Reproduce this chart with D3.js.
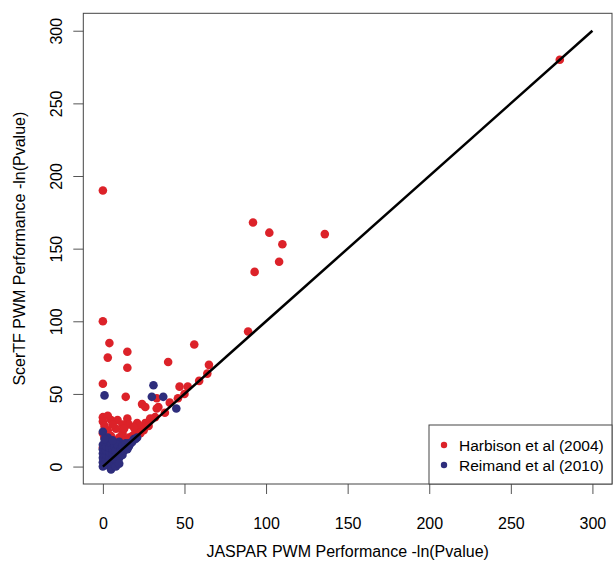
<!DOCTYPE html>
<html lang="en">
<head>
    <meta charset="UTF-8"/>
    <title>ScerTF vs JASPAR PWM Performance</title>
    <script src="https://d3js.org/d3.v7.min.js"></script>
    <style>
        body { margin: 0; background: #fff; }
        svg text { font-family: "Liberation Sans", Arial, Helvetica, sans-serif; fill: #000; }
    </style>
</head>
<body>
    <div id="chart"></div>

    <script>
        // Values: [JASPAR, ScerTF]
        const harbison = [
            [0, 190], [0, 100], [92, 168], [102, 161], [110, 153], [108, 141], [93, 134],
            [136, 160], [89, 93], [280, 280],
            [4, 85], [15, 79], [3, 75], [15, 68], [56, 84], [40, 72], [65, 70], [64, 64],
            [59, 59], [52, 55], [47, 55], [0, 57], [14, 48], [33, 47], [41, 44], [46, 47],
            [50, 50], [24, 43], [34, 41], [38, 37], [32, 34],
            [26, 41], [33, 40], [0, 34], [0, 31], [5, 32], [9, 32], [15, 33], [16, 29],
            [21, 30], [29, 33], [3, 25], [8, 26], [12, 29], [0, 23], [20, 24], [25, 25],
            [5, 21], [10, 20], [16, 20], [2, 17], [8, 18], [18, 21], [22, 28], [12, 23],
            [1, 28], [6, 29], [3, 35], [13, 26], [26, 30], [19, 27], [1, 20], [28, 28],
            [4, 15], [10, 16], [0, 13], [14, 18], [23, 23]
        ];
        const reimand = [
            [1, 49], [31, 56], [30, 48], [37, 48], [45, 40], [0, 24], [10, 17], [16, 16], [19, 19],
            [0, 0], [0, 3], [0, 6], [0, 9], [0, 12], [0, 15], [1, 2], [2, 5], [2, 8], [2, 11],
            [2, 14], [3, 1], [3, 17], [4, 4], [4, 7], [4, 10], [4, 13], [5, -2], [5, 2], [5, 16],
            [6, 5], [6, 9], [6, 12], [7, 14], [7, 1], [8, 4], [8, 7], [8, 11], [9, 15], [10, 6],
            [10, 9], [11, 12], [12, 14], [12, 8], [13, 11], [14, 16], [14, 13], [15, 12],
            [16, 14], [17, 16], [18, 17], [20, 19], [21, 20], [3, 20], [6, 18], [1, 19], [8, 0],
            [10, 2]
        ];
        const tickValues = [0, 50, 100, 150, 200, 250, 300];
        const seriesNames = ["Harbison et al (2004)", "Reimand et al (2010)"];
        const seriesColors = ["#dc2229", "#2e2d7c"];

        const w = 613;
        const h = 562;
        const plot = { left: 83.3, right: 612, top: 13.3, bottom: 484 };

        const svg = d3.select("#chart")
            .append("svg")
            .attr("width", w)
            .attr("height", h);

        // R style: 0..300 with 4% padding each side
        const x = d3.scaleLinear().domain([-12, 312]).range([plot.left, plot.right]);
        const y = d3.scaleLinear().domain([-12, 312]).range([plot.bottom, plot.top]);

        // x axis
        const xAxis = svg.append("g")
            .attr("transform", `translate(0, ${plot.bottom})`)
            .call(d3.axisBottom(x).tickValues(tickValues).tickSize(10).tickPadding(24));
        xAxis.select(".domain").remove();
        xAxis.selectAll("line").attr("stroke", "#555");
        xAxis.selectAll("text").attr("font-size", "16px").attr("font-family", null);

        // y axis with rotated labels
        const yAxis = svg.append("g")
            .attr("transform", `translate(${plot.left}, 0)`)
            .call(d3.axisLeft(y).tickValues(tickValues).tickSize(10));
        yAxis.select(".domain").remove();
        yAxis.selectAll("line").attr("stroke", "#555");
        yAxis.selectAll("text")
            .attr("font-size", "16px")
            .attr("font-family", null)
            .attr("transform", "rotate(-90)")
            .attr("text-anchor", "middle")
            .attr("x", 0)
            .attr("y", -21)
            .attr("dy", null);

        // points
        const pts = svg.append("g");
        pts.selectAll(".harbison")
            .data(harbison)
            .enter()
            .append("circle")
            .attr("class", "harbison")
            .attr("cx", d => x(d[0]))
            .attr("cy", d => y(d[1]))
            .attr("r", 4.3)
            .attr("fill", seriesColors[0]);
        pts.selectAll(".reimand")
            .data(reimand)
            .enter()
            .append("circle")
            .attr("class", "reimand")
            .attr("cx", d => x(d[0]))
            .attr("cy", d => y(d[1]))
            .attr("r", 4.3)
            .attr("fill", seriesColors[1]);

        // identity line
        svg.append("line")
            .attr("x1", x(0)).attr("y1", y(0))
            .attr("x2", x(300)).attr("y2", y(300))
            .attr("stroke", "#000")
            .attr("stroke-width", 2.5);

        // plot box
        svg.append("rect")
            .attr("x", plot.left)
            .attr("y", plot.top)
            .attr("width", plot.right - plot.left)
            .attr("height", plot.bottom - plot.top)
            .attr("fill", "none")
            .attr("stroke", "#444")
            .attr("stroke-width", 1);

        // legend (bottom right)
        const legend = svg.append("g");
        legend.append("rect")
            .attr("x", 429)
            .attr("y", 425)
            .attr("width", plot.right - 429)
            .attr("height", plot.bottom - 425)
            .attr("fill", "#fff")
            .attr("stroke", "#444");
        seriesNames.forEach((name, i) => {
            legend.append("circle")
                .attr("cx", 444)
                .attr("cy", 445 + i * 20)
                .attr("r", 3.2)
                .attr("fill", seriesColors[i]);
            legend.append("text")
                .attr("x", 459)
                .attr("y", 445 + i * 20)
                .attr("dy", "0.36em")
                .attr("font-size", "15.5px")
                .text(name);
        });

        // axis titles
        svg.append("text")
            .attr("x", (plot.left + plot.right) / 2)
            .attr("y", 557)
            .attr("text-anchor", "middle")
            .attr("font-size", "16px")
            .text("JASPAR PWM Performance -ln(Pvalue)");

        svg.append("text")
            .attr("transform", "rotate(-90)")
            .attr("x", -(plot.top + plot.bottom) / 2)
            .attr("y", 25)
            .attr("text-anchor", "middle")
            .attr("font-size", "16px")
            .text("ScerTF PWM Performance -ln(Pvalue)");
    </script>
</body>
</html>
